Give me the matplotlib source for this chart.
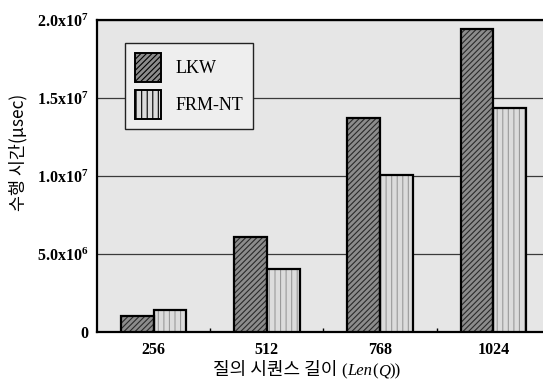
import numpy as np
import matplotlib
matplotlib.use("Agg")
import matplotlib.pyplot as plt
from matplotlib.ticker import FixedLocator, FixedFormatter
from matplotlib.patches import Patch

# data
lengths = ["256", "512", "768", "1024"]
lkw = [1.03e6, 6.1e6, 13.7e6, 19.4e6]
frm_nt = [1.41e6, 4.05e6, 10.05e6, 14.35e6]
series_names = ["LKW", "FRM-NT"]
ytick_vals = [0, 5e6, 1e7, 1.5e7, 2e7]
ytick_text = ["0", r"5.0x10$^{6}$", r"1.0x10$^{7}$", r"1.5x10$^{7}$", r"2.0x10$^{7}$"]

plt.rcParams["mathtext.fontset"] = "custom"
plt.rcParams["mathtext.rm"] = "Liberation Serif:bold"
plt.rcParams["mathtext.it"] = "Liberation Serif:italic:bold"
plt.rcParams["hatch.linewidth"] = 0.8

SERIF = "Liberation Serif"
KR = ["Noto Sans CJK KR", "DejaVu Sans"]

fig = plt.figure(figsize=(5.43, 3.84), dpi=100)
W, H = 543, 384
# plot area runs off the right edge of the picture
ax = fig.add_axes([97 / W, 1 - 332 / H, 453 / W, 312 / H])
ax.set_facecolor("#e6e6e6")

x = np.arange(len(lengths))
w = 0.29

# hatched fill first, then black outline on top
ax.bar(x - w / 2, lkw, w, color="#8c8c8c", edgecolor="#2a2a2a", hatch="//////", linewidth=0, zorder=3)
ax.bar(x + w / 2, frm_nt, w, color="#dcdcdc", edgecolor="#9a9a9a", hatch="|||", linewidth=0, zorder=3)
ax.bar(x - w / 2, lkw, w, fill=False, edgecolor="black", linewidth=1.6, zorder=4)
ax.bar(x + w / 2, frm_nt, w, fill=False, edgecolor="black", linewidth=1.6, zorder=4)

ax.set_xlim(-0.5, 3.5)
ax.set_ylim(0, 2e7)

ax.yaxis.set_major_locator(FixedLocator(ytick_vals))
ax.yaxis.set_major_formatter(FixedFormatter(ytick_text))
ax.grid(axis="y", color="#3a3a3a", linewidth=0.9, zorder=1)
ax.set_axisbelow(True)

ax.set_xticks(x)
ax.set_xticklabels(lengths)
ax.set_xticks(np.arange(0.5, len(lengths)), minor=True)
ax.tick_params(axis="x", which="major", length=0, pad=7)
ax.tick_params(axis="x", which="minor", length=3, direction="in", width=1)
ax.tick_params(axis="y", length=0, pad=6)
for lab in ax.get_xticklabels() + ax.get_yticklabels():
    lab.set_fontfamily(SERIF)
    lab.set_fontweight("bold")
    lab.set_fontsize(11.5)

for side in ["left", "bottom", "top"]:
    ax.spines[side].set_linewidth(1.6)
ax.spines["right"].set_visible(False)

# legend built from the bars
handles = [
    Patch(facecolor="#8c8c8c", edgecolor="black", hatch="//////", linewidth=1.4),
    Patch(facecolor="#dcdcdc", edgecolor="black", hatch="|||", linewidth=1.4),
]
leg = ax.legend(handles, series_names, loc="upper left", bbox_to_anchor=(0.062, 0.926),
                borderaxespad=0, prop={"family": SERIF, "size": 13},
                handlelength=1.45, handleheight=2.1, labelspacing=0.45,
                handletextpad=0.8, borderpad=0.55, fancybox=False, framealpha=1)
leg.get_frame().set_facecolor("#eeeeee")
leg.get_frame().set_edgecolor("#222222")
leg.get_frame().set_linewidth(1.0)
leg.set_zorder(5)

# axis titles
fig.text(18 / W, 1 - 152 / H, "수행 시간(µsec)", rotation=90, ha="center", va="center",
         family=KR, fontsize=12.5)

# x label: Korean part, then serif "(Len(Q))" with italic pieces, all on one baseline
base_y = 1 - 375 / H
pieces = [("질의 시퀀스 길이 ", KR, "normal", 13),
          ("(", SERIF, "normal", 12),
          ("Len", SERIF, "italic", 12),
          ("(", SERIF, "normal", 12),
          ("Q", SERIF, "italic", 12),
          ("))", SERIF, "normal", 12)]
renderer = fig.canvas.get_renderer()
cur_x = 213 / W
for txt, fam, sty, size in pieces:
    t = fig.text(cur_x, base_y, txt, ha="left", va="baseline", family=fam, style=sty, fontsize=size)
    bb = t.get_window_extent(renderer)
    cur_x = bb.x1 / (W)

fig.savefig("out.png", dpi=100)
